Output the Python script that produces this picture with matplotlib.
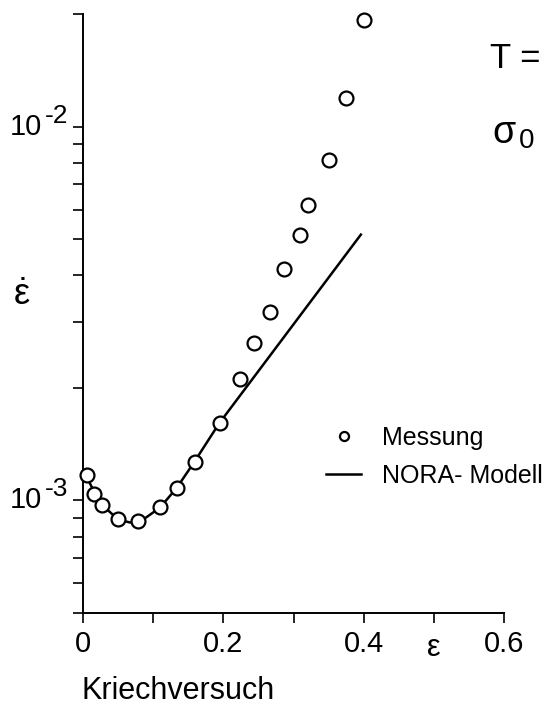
import numpy as np
import matplotlib
matplotlib.use("Agg")
import matplotlib.pyplot as plt
from matplotlib.ticker import FixedLocator, NullFormatter

plt.rcParams['font.family'] = ['Liberation Sans', 'DejaVu Sans']
plt.rcParams['mathtext.fontset'] = 'custom'
plt.rcParams['mathtext.rm'] = 'Liberation Sans'
plt.rcParams['mathtext.it'] = 'Liberation Sans'

# Messung (Kriechversuch)
eps_mess = [0.005, 0.015, 0.027, 0.050, 0.079, 0.110, 0.134, 0.159, 0.195,
            0.224, 0.243, 0.266, 0.287, 0.309, 0.321, 0.351, 0.375, 0.400]
rate_mess = [1.17e-3, 1.04e-3, 0.97e-3, 0.89e-3, 0.88e-3, 0.96e-3, 1.08e-3, 1.27e-3, 1.61e-3,
             2.11e-3, 2.63e-3, 3.20e-3, 4.17e-3, 5.14e-3, 6.18e-3, 8.16e-3, 1.19e-2, 1.93e-2]

# NORA-Modell
eps_mod = [0.0, 0.017, 0.031, 0.050, 0.067, 0.084, 0.110, 0.134, 0.159, 0.194, 0.396]
rate_mod = [1.21e-3, 1.044e-3, 0.958e-3, 0.890e-3, 0.873e-3, 0.884e-3, 0.958e-3, 1.083e-3,
            1.271e-3, 1.607e-3, 5.14e-3]

xticks = [0, 0.2, 0.4, 0.6]
xtick_labels = ["0", "0.2", "0.4", "0.6"]
ymajor = [1e-3, 1e-2]
ymajor_exp = ["-3", "-2"]

fig = plt.figure(figsize=(5.51, 7.07), dpi=100)
ax = fig.add_axes([83/551, 94/707, 421/551, 599/707])

l_mod, = ax.plot(eps_mod, rate_mod, color='black', lw=1.8, label='NORA- Modell', zorder=2)
l_mess, = ax.plot(eps_mess, rate_mess, ls='none', marker='o', ms=10, mfc='white', mec='black',
                  mew=1.6, label='Messung', zorder=3, clip_on=False)

ax.set_yscale('log')
ax.set_ylim(5e-4, 2e-2)
ax.set_xlim(0, 0.6)

for s in ['top', 'right']:
    ax.spines[s].set_visible(False)
for s in ['left', 'bottom']:
    ax.spines[s].set_linewidth(1.4)

ax.set_xticks(xticks)
ax.set_xticklabels(xtick_labels)
ax.set_xticks([0.1, 0.3, 0.5], minor=True)
ax.yaxis.set_major_locator(FixedLocator(ymajor))
ax.yaxis.set_minor_locator(FixedLocator([5e-4, 6e-4, 7e-4, 8e-4, 9e-4] +
                                        [k * 1e-3 for k in range(2, 10)] + [2e-2]))
ax.yaxis.set_major_formatter(NullFormatter())
ax.yaxis.set_minor_formatter(NullFormatter())
ax.tick_params(which='both', direction='out', length=7, width=1.2, color='black')
ax.tick_params(axis='x', labelsize=21, pad=5)

# y tick labels 10^-n
ytr = ax.get_yaxis_transform()
for v, e in zip(ymajor, ymajor_exp):
    ax.text(-0.175, v, "10", transform=ytr, ha='left', va='center', fontsize=21)
    ax.annotate(e, xy=(-0.175, v), xycoords=ytr, xytext=(36, 11), textcoords='offset pixels',
                ha='left', va='center', fontsize=19)

# axis labels
fig.text(13/551, 1 - 305/707, r"$\dot{\varepsilon}$", ha='left', va='baseline', fontsize=26)
ax.text(0.5, -0.058, "ε", transform=ax.get_xaxis_transform(), ha='center', va='center', fontsize=22)
fig.text(82/551, 1 - 691/707, "Kriechversuch", ha='left', va='center', fontsize=22)

# parameters (cut at the right edge)
fig.text(490/551, 1 - 58/707, "T =", ha='left', va='center', fontsize=25)
fig.text(492/551, 1 - 133/707, "σ", ha='left', va='center', fontsize=27)
fig.text(519/551, 1 - 141/707, "0", ha='left', va='center', fontsize=20)

ax.legend(handles=[l_mess, l_mod], loc='upper left', bbox_to_anchor=(326/551, 1 - 426/707),
          bbox_transform=fig.transFigure, frameon=False, fontsize=18, handlelength=1.4,
          handletextpad=0.85, borderpad=0, borderaxespad=0, labelspacing=0.55, markerscale=0.65)

fig.savefig("out.png", dpi=100)
